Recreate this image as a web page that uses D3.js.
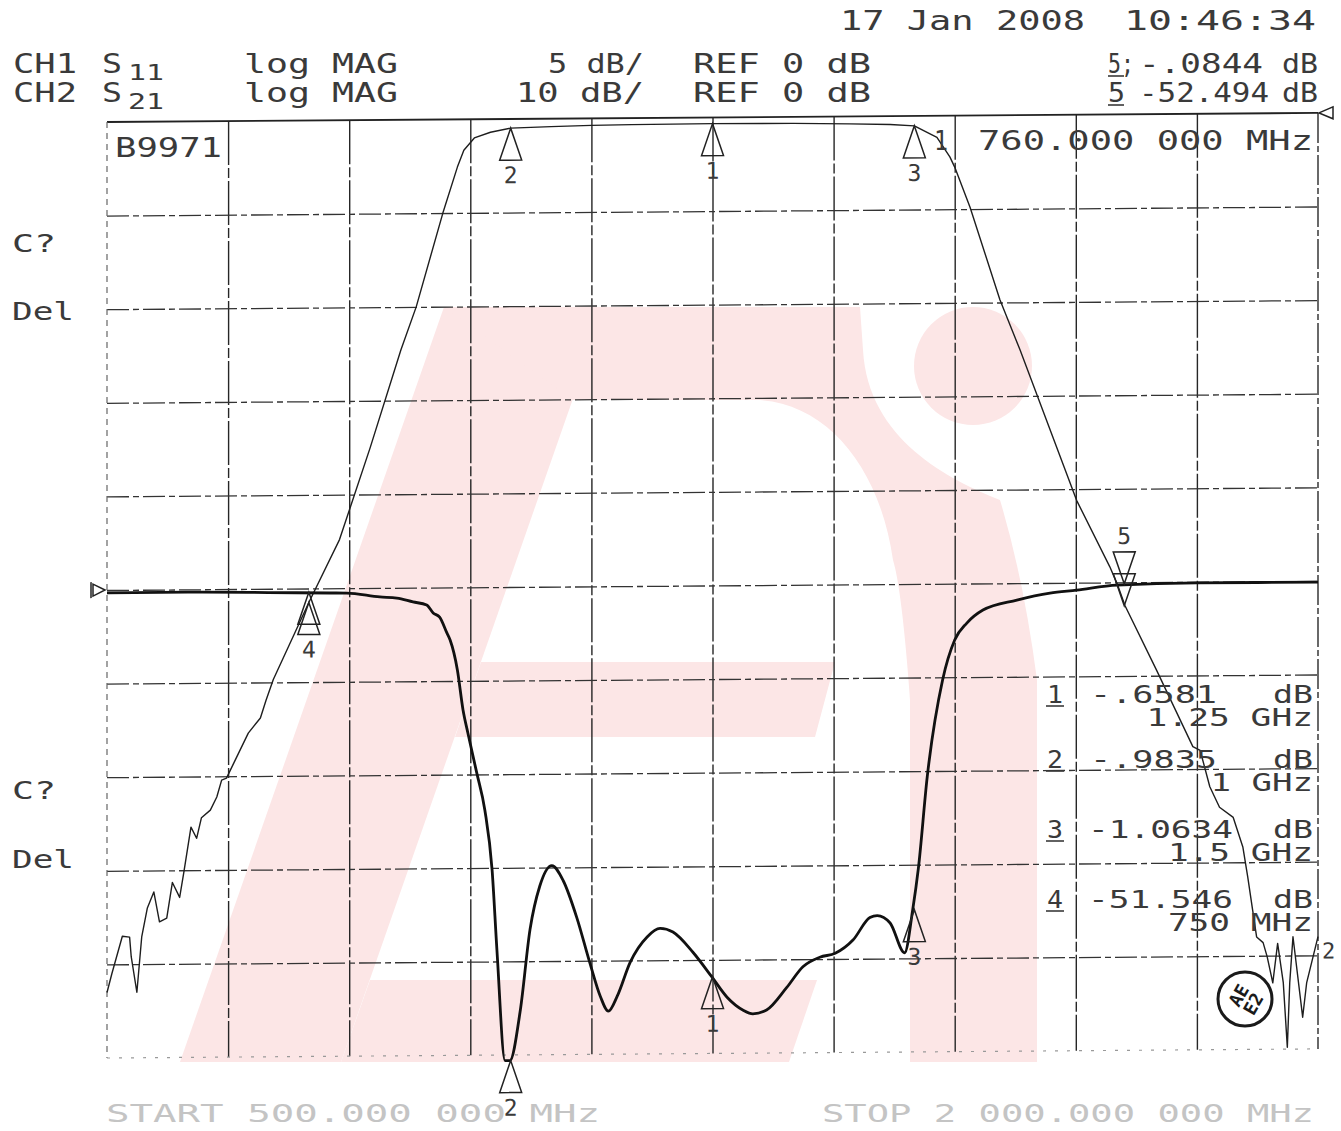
<!DOCTYPE html>
<html lang="en">
<head>
<meta charset="UTF-8">
<title>B9971 S11 / S21 log MAG</title>
<script src="https://cdn.jsdelivr.net/npm/d3@7"></script>
<style>
  body { margin: 0; background: #fff; }
  svg { display: block; }
  text { font-family: "DejaVu Sans Mono", monospace; fill: #3a3a3a; }
</style>
</head>
<body>
<svg id="chart" width="1341" height="1131"></svg>
<script>
// sweep
const startMHz = 500, stopMHz = 2000;
const gridFreq = [650, 800, 950, 1100, 1250, 1400, 1550, 1700, 1850];
const gridDb21 = [-10, -20, -30, -40, -50, -60, -70, -80, -90];

// CH2 S21 (10 dB/div, ref 0 dB at top)
const s21Freq = [500, 506, 519, 528, 530, 537, 543, 550, 558, 565, 574, 581, 590, 595, 604, 611, 617, 628, 636, 642, 648, 657, 675, 690, 697, 706, 750, 788, 826, 864, 883, 916, 934, 942, 955, 975, 1000, 1050, 1100, 1150, 1250, 1350, 1420, 1470, 1500, 1528, 1544, 1550, 1569, 1606, 1631, 1701, 1742, 1751, 1761, 1800, 1845, 1854, 1866, 1878, 1895, 1907, 1913, 1919, 1924, 1932, 1937, 1944, 1950, 1957, 1962, 1965, 1969, 1981, 1986, 2000];
const s21Db   = [-93, -91, -87, -87.1, -89.2, -93, -87.1, -84, -82.3, -85.5, -85.1, -81.3, -82.9, -80.3, -75.4, -76.6, -74.4, -73.6, -72.2, -70.4, -70.2, -68.6, -65.4, -63.8, -61.9, -59.7, -51.5, -44.8, -35, -24.6, -20.0, -10.0, -5.1, -3.3, -2.0, -1.4, -0.98, -0.85, -0.75, -0.7, -0.66, -0.7, -0.8, -0.9, -1.06, -2.3, -4.4, -5.5, -9.8, -19.7, -25.1, -41.2, -48.3, -50.1, -52.5, -59.4, -67.6, -68, -71.9, -74.1, -75.2, -78.4, -81.6, -85.1, -88, -88.6, -90.1, -92.9, -88.7, -92.9, -99.8, -92.9, -88, -96.6, -92.9, -88];

// CH1 S11 (5 dB/div, ref 0 dB at centre)
const s11Freq = [500, 600, 700, 776, 797, 838, 859, 879, 896, 904, 912, 921, 925, 934, 941, 947, 958, 968, 977, 983, 993, 999, 1012, 1024, 1036, 1051, 1065, 1082, 1098, 1111, 1121, 1132, 1148, 1169, 1185, 1201, 1226, 1249, 1268, 1288, 1300, 1317, 1342, 1362, 1383, 1402, 1424, 1445, 1454, 1470, 1488, 1498, 1505, 1516, 1535, 1550, 1565, 1585, 1627, 1668, 1701, 1751, 1850, 2000];
const s11Db   = [-0.15, -0.15, -0.2, -0.25, -0.26, -0.48, -0.55, -0.76, -0.93, -1.36, -1.58, -2.43, -2.81, -4.41, -6.55, -7.78, -9.92, -11.9, -15.1, -19.4, -25.3, -25.3, -22.6, -18.3, -16.0, -14.9, -15.7, -17.7, -20.1, -21.9, -22.7, -21.9, -20.1, -18.75, -18.3, -18.5, -19.6, -20.9, -22.0, -22.7, -22.9, -22.7, -21.5, -20.4, -19.9, -19.7, -19.0, -17.8, -17.7, -18.1, -19.7, -17.4, -15.2, -10.3, -5.14, -3.01, -2.11, -1.42, -0.9, -0.54, -0.39, -0.14, -0.06, -0.06];

// markers 1..4 and active marker 5
const markerNames = ["1", "2", "3", "4"];
const markerFreq  = [1250, 1000, 1500, 750];
const markerS21   = [-0.66, -0.98, -1.06, -51.5];
const markerS11   = [-20.9, -25.3, -17.4, -0.2];
const marker5 = { freq: 1760, s11: -0.08, s21: -52.5 };

// marker table text
const tableRows = [
  ["1", "-.6581", "1.25", "GHz"],
  ["2", "-.9835", "1", "GHz"],
  ["3", "-1.0634", "1.5", "GHz"],
  ["4", "-51.546", "750", "MHz"]
];

const svg = d3.select("#chart");
const plotX = 107, plotY = 122, plotW = 1211, plotH = 936;

// ---- watermark logo ----
const wm = svg.append("g").attr("fill", "#fce6e6");
wm.append("path").attr("d", "M180,1062 L341,1062 L605,307 L444,307 Z");
wm.append("path").attr("d",
  "M444,307 L860,307 L863,350 C868,440 950,480 1000,500 Q1024,580 1037,680 L1037,1062 L910,1062 L910,700 " +
  "Q902,590 893,560 C880,470 830,405 760,400 L573,400 Z");
wm.append("path").attr("d", "M481,662 L835,662 L815,737 L455,737 Z");
wm.append("path").attr("d", "M370,980 L817,980 L789,1062 L341,1062 Z");
wm.append("circle").attr("cx", 973).attr("cy", 366).attr("r", 59);

// ---- plot area (scan is slightly tilted) ----
const g = svg.append("g").attr("transform", `translate(${plotX},${plotY}) skewY(-0.43)`);

const x = d3.scaleLinear().domain([startMHz, stopMHz]).range([0, plotW]);
const y21 = d3.scaleLinear().domain([0, -100]).range([0, plotH]);
const y11 = d3.scaleLinear().domain([25, -25]).range([0, plotH]);

// grid
g.append("g")
  .call(d3.axisBottom(x).tickValues(gridFreq).tickSize(plotH).tickFormat(""))
  .call(a => {
    a.select(".domain").remove();
    a.selectAll("line").attr("stroke", "#262626").attr("stroke-width", 1.4).attr("stroke-dasharray", "44 3 10 3");
  });
g.append("g")
  .call(d3.axisRight(y21).tickValues(gridDb21).tickSize(plotW).tickFormat(""))
  .call(a => {
    a.select(".domain").remove();
    a.selectAll("line").attr("stroke", "#333").attr("stroke-width", 1.3).attr("stroke-dasharray", "22 4 6 4");
  });

// frame
g.append("line").attr("x1", 0).attr("x2", plotW).attr("y1", 0).attr("y2", 0)
  .attr("stroke", "#222").attr("stroke-width", 1.8);
g.append("line").attr("x1", plotW).attr("x2", plotW).attr("y1", 0).attr("y2", plotH)
  .attr("stroke", "#2a2a2a").attr("stroke-width", 1.4).attr("stroke-dasharray", "30 3 6 3");
g.append("line").attr("x1", 0).attr("x2", 0).attr("y1", 0).attr("y2", plotH)
  .attr("stroke", "#666").attr("stroke-width", 1.2).attr("stroke-dasharray", "6 5");
g.append("line").attr("x1", 0).attr("x2", plotW).attr("y1", plotH).attr("y2", plotH)
  .attr("stroke", "#999").attr("stroke-width", 1.2).attr("stroke-dasharray", "3 9");

// traces
const line21 = d3.line().x(d => x(d[0])).y(d => y21(d[1]));
const line11 = d3.line().x(d => x(d[0])).y(d => y11(d[1])).curve(d3.curveMonotoneX);

g.append("path").datum(d3.zip(s21Freq, s21Db)).attr("d", line21)
  .attr("fill", "none").attr("stroke", "#1e1e1e").attr("stroke-width", 1.4).attr("stroke-linejoin", "round");
g.append("path").datum(d3.zip(s11Freq, s11Db)).attr("d", line11)
  .attr("fill", "none").attr("stroke", "#111").attr("stroke-width", 2.8).attr("stroke-linejoin", "round");

// markers
const triUp = (px, py) => `M${px},${py} L${px - 11},${py + 32} L${px + 11},${py + 32} Z`;
const triDown = (px, py) => `M${px},${py} L${px - 11},${py - 32} L${px + 11},${py - 32} Z`;
const mk = g.append("g");

markerFreq.forEach((f, i) => {
  const px = x(f);
  [y21(markerS21[i]), y11(markerS11[i])].forEach((py, k) => {
    mk.append("path").attr("d", triUp(px, py))
      .attr("fill", "none").attr("stroke", "#222").attr("stroke-width", 1.5);
    // marker 4 sits on both traces at one spot: one label only
    if (i === 3 && k === 1) return;
    mk.append("text").attr("x", px).attr("y", py + 55).attr("text-anchor", "middle")
      .attr("font-size", 23).text(markerNames[i]);
  });
});
[y11(marker5.s11), y21(marker5.s21)].forEach(py => {
  mk.append("path").attr("d", triDown(x(marker5.freq), py))
    .attr("fill", "none").attr("stroke", "#222").attr("stroke-width", 1.5);
});
mk.append("text").attr("x", x(marker5.freq)).attr("y", y11(marker5.s11) - 40)
  .attr("text-anchor", "middle").attr("font-size", 23).text("5");

// reference position symbols
const r11 = y11(0);
mk.append("path").attr("d", `M-2,${r11} L-14,${r11 - 6} L-14,${r11 + 6} Z M-16,${r11 - 8} L-16,${r11 + 8}`)
  .attr("fill", "none").attr("stroke", "#222").attr("stroke-width", 1.5);
const r21 = y21(0);
mk.append("path").attr("d", `M${plotW + 1},${r21} L${plotW + 15},${r21 - 6} L${plotW + 15},${r21 + 6} Z`)
  .attr("fill", "none").attr("stroke", "#222").attr("stroke-width", 1.5);
// trace end channel label
mk.append("text").attr("x", plotW + 4).attr("y", y21(s21Db[s21Db.length - 1]) + 22)
  .attr("font-size", 22).text("2");

// ---- text ----
function label(str, tx, ty, len, fs, fill) {
  const t = svg.append("text").attr("x", tx).attr("y", ty).attr("font-size", fs || 26).text(str);
  if (len) t.attr("textLength", len).attr("lengthAdjust", "spacingAndGlyphs");
  if (fill) t.style("fill", fill);
  return t;
}
function underline(ux, uy, w) {
  svg.append("line").attr("x1", ux).attr("x2", ux + w).attr("y1", uy).attr("y2", uy)
    .attr("stroke", "#3a3a3a").attr("stroke-width", 1.6);
}

label("17 Jan 2008", 840, 30, 245, 26);
label("10:46:34", 1124, 30, 192, 26);

label("CH1", 13, 73, 64, 26);
label("S", 102, 73, 20, 26);
label("11", 128, 80, 36, 22);
label("log MAG", 244, 73, 154, 26);
label("5 dB/", 548, 73, 96, 26);
label("REF 0 dB", 693, 73, 178, 26);
label("5;", 1108, 73, 26, 26); underline(1108, 76, 16);
label("-.0844", 1139, 73, 124, 26);
label("dB", 1282, 73, 36, 26);

label("CH2", 13, 102, 64, 26);
label("S", 102, 102, 20, 26);
label("21", 128, 109, 36, 22);
label("log MAG", 244, 102, 154, 26);
label("10 dB/", 516, 102, 128, 26);
label("REF 0 dB", 693, 102, 178, 26);
label("5", 1108, 102, 17, 26); underline(1108, 105, 16);
label("-52.494", 1139, 102, 130, 26);
label("dB", 1282, 102, 36, 26);

label("B9971", 115, 157, 107, 26);
label("1", 934, 150, 14, 26);
label("760.000 000 MHz", 978, 150, 335, 26);

label("C?", 12, 252, 44, 25);
label("Del", 12, 320, 62, 25);
label("C?", 12, 799, 44, 25);
label("Del", 12, 868, 62, 25);

const rowBase = [703, 768, 838, 908];
tableRows.forEach((r, i) => {
  const b = rowBase[i];
  label(r[0], 1047, b, 16, 24); underline(1046, b + 3, 18);
  label(r[1], r[1].length > 6 ? 1088 : 1090, b, r[1].length > 6 ? 145 : 127, 24);
  label("dB", 1273, b, 40, 24);
  const sub = r[2] + " " + r[3];
  svg.append("text").attr("x", 1313).attr("y", b + 23).attr("text-anchor", "end")
    .attr("font-size", 24).attr("textLength", sub.length * 21.3 - 4)
    .attr("lengthAdjust", "spacingAndGlyphs").text(sub);
});

label("START  500.000 000 MHz", 106, 1122, 494, 24, "#c4c4c4");
label("STOP 2 000.000 000 MHz", 822, 1122, 492, 24, "#c4c4c4");

// inspection stamp
const st = svg.append("g").attr("transform", "translate(1245,999)");
st.append("circle").attr("r", 27).attr("fill", "#fff").attr("fill-opacity", 0.6)
  .attr("stroke", "#1a1a1a").attr("stroke-width", 3);
st.append("text").attr("transform", "rotate(-60)").attr("y", -1).attr("text-anchor", "middle")
  .attr("font-size", 18).attr("font-weight", "bold").style("fill", "#1a1a1a").text("AE");
st.append("text").attr("transform", "rotate(-60)").attr("y", 16).attr("text-anchor", "middle")
  .attr("font-size", 18).attr("font-weight", "bold").style("fill", "#1a1a1a").text("E2");
</script>
</body>
</html>
